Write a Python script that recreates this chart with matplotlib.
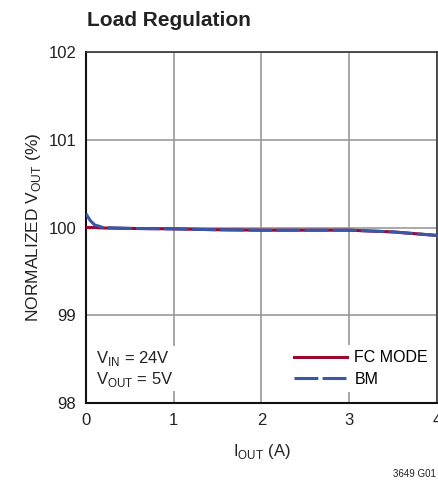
import matplotlib
matplotlib.use("Agg")
import matplotlib.pyplot as plt

plt.rcParams["font.family"] = ["Liberation Sans", "DejaVu Sans"]
plt.rcParams["mathtext.fontset"] = "custom"
plt.rcParams["mathtext.rm"] = "Liberation Sans"

# data
iout = [0, 0.05, 0.1, 0.2, 0.5, 1.0, 1.5, 2.0, 2.5, 3.0, 3.5, 4.0]
fc_mode = [100.0, 100.0, 100.0, 99.995, 99.99, 99.985, 99.975, 99.97, 99.97, 99.97, 99.95, 99.91]
bm_mode = [100.16, 100.08, 100.03, 100.0, 99.99, 99.985, 99.975, 99.97, 99.97, 99.97, 99.95, 99.91]

x_ticks = [0, 1, 2, 3, 4]
y_ticks = [98, 99, 100, 101, 102]

fig = plt.figure(figsize=(4.38, 4.87), dpi=100)
ax = fig.add_axes([0.196, 0.1725, 0.802, 0.7205])

ax.plot(iout, fc_mode, color="#9b0a2e", lw=2.2, label="FC MODE", zorder=3)
ax.plot(iout, bm_mode, color="#3a56a8", lw=2.2, dashes=(7.8, 1.4), label="BM", zorder=4)

ax.set_xlim(0, 4)
ax.set_ylim(98, 102)
ax.set_xticks(x_ticks)
ax.set_yticks(y_ticks)
ax.tick_params(length=0, labelsize=12, pad=7, colors="#222222")
ax.grid(True, color="#999999", lw=1.2)
ax.set_axisbelow(True)
for side in ["left", "bottom"]:
    ax.spines[side].set_color("#111111")
    ax.spines[side].set_linewidth(1.5)
for side in ["top", "right"]:
    ax.spines[side].set_color("#333333")
    ax.spines[side].set_linewidth(1.2)

ax.set_xlabel(r"I$_{\mathrm{OUT}}$ (A)", fontsize=12, color="#222222", labelpad=10)
ax.set_ylabel(r"NORMALIZED V$_{\mathrm{OUT}}$ (%)", fontsize=12.5, color="#222222", labelpad=4)

fig.text(0.198, 0.958, "Load Regulation", fontsize=15, fontweight="bold",
         color="#222222", ha="left", va="center")
fig.text(0.995, 0.027, "3649 G01", fontsize=7, color="#222222", ha="right", va="center")

ax.text(0.03, 0.097, "V$_{\\mathrm{IN}}$ = 24V\nV$_{\\mathrm{OUT}}$ = 5V", transform=ax.transAxes,
        fontsize=12, color="#222222", ha="left", va="center", linespacing=1.1,
        bbox=dict(facecolor="white", edgecolor="none", pad=2))

leg = ax.legend(loc="center left", bbox_to_anchor=(0.58, 0.098), fontsize=11.5,
                handlelength=3.3, handletextpad=0.45, labelspacing=0.42,
                frameon=True, fancybox=False, borderpad=0.3, borderaxespad=0)
leg.get_frame().set_edgecolor("none")
leg.get_frame().set_facecolor("white")
leg.get_frame().set_alpha(1)

fig.savefig("out.png", dpi=100)
